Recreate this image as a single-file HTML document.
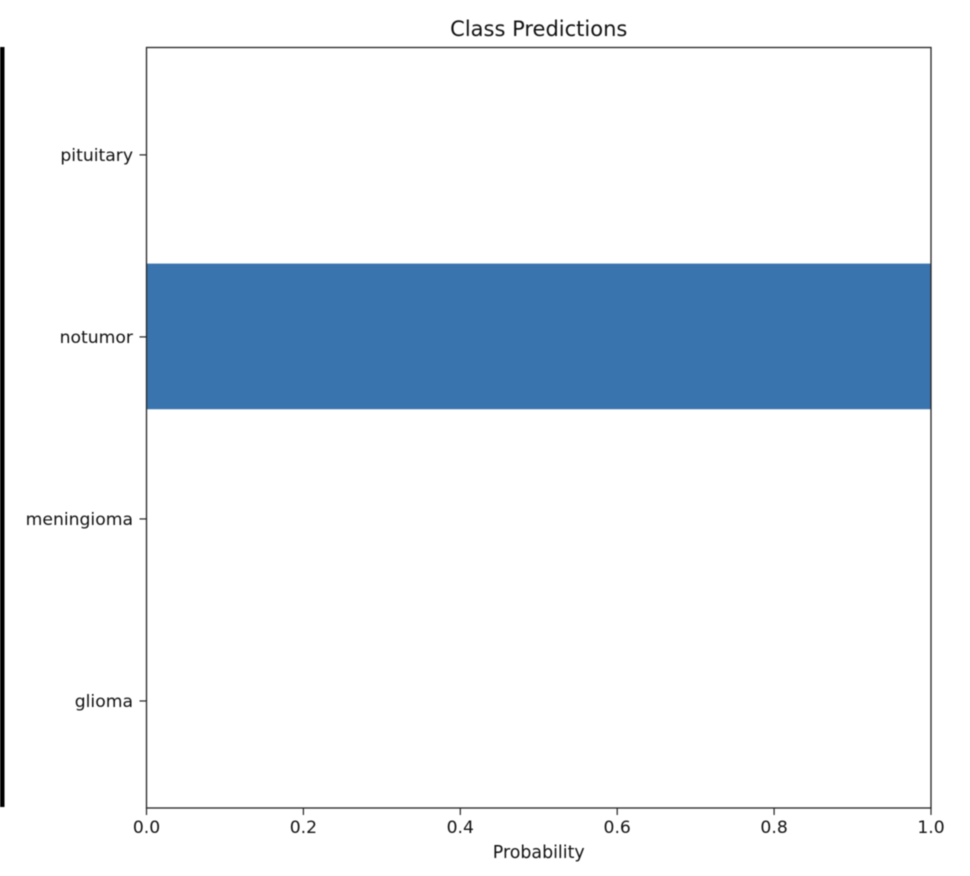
<!DOCTYPE html>
<html lang="en">
<head>
<meta charset="utf-8">
<title>Class Predictions</title>
<style>
html,body{margin:0;padding:0;background:#fff;width:970px;height:876px;overflow:hidden}
svg{display:block;filter:blur(0.45px)}
text{font-family:"DejaVu Sans","Liberation Sans",sans-serif;fill:#111}
</style>
</head>
<body>
<svg id="chart" width="970" height="876" viewBox="0 0 970 876" xmlns="http://www.w3.org/2000/svg"></svg>
<script>
const categories = ["glioma", "meningioma", "notumor", "pituitary"];
const probabilities = [0, 0, 1, 0];
const xTickValues = [0, 0.2, 0.4, 0.6, 0.8, 1];
const xTickLabels = ["0.0", "0.2", "0.4", "0.6", "0.8", "1.0"];
const xDomain = [0, 1];
const yDomain = [-0.588, 3.59];
const barThickness = 0.8;

const plot = { left: 146.5, right: 931, top: 47.5, bottom: 808 };
const svg = document.getElementById('chart');
const NS = 'http://www.w3.org/2000/svg';

function xScale(v) {
  return plot.left + (v - xDomain[0]) / (xDomain[1] - xDomain[0]) * (plot.right - plot.left);
}
function yScale(v) {
  return plot.bottom - (v - yDomain[0]) / (yDomain[1] - yDomain[0]) * (plot.bottom - plot.top);
}
function make(tag, attrs, text) {
  const el = document.createElementNS(NS, tag);
  for (const k in attrs) el.setAttribute(k, attrs[k]);
  if (text !== undefined) el.textContent = text;
  svg.appendChild(el);
  return el;
}

const sideBar = make('rect', { x: -2, y: 47, width: 6.5, height: 760, fill: '#000' });



const plotBg = make('rect', { x: plot.left, y: plot.top, width: plot.right - plot.left, height: plot.bottom - plot.top, fill: '#fff' });



categories.forEach(function (cat, i) {
  const yTop = yScale(i + barThickness / 2) - 0.5;
  const yBottom = yScale(i - barThickness / 2) - 0.5;
  const bar = make('rect', {
    x: xScale(0),
    y: yTop,
    width: xScale(probabilities[i]) - xScale(0),
    height: yBottom - yTop,
    fill: '#3a74ae'
  });
  
  

  const tick = make('line', { x1: plot.left - 7, x2: plot.left, y1: yScale(i), y2: yScale(i), stroke: '#222', 'stroke-width': 1.2 });
  
  

  const label = make('text', { x: plot.left - 13.5, y: yScale(i) + 6, 'text-anchor': 'end', 'font-size': 17.2 }, cat);
  
  
});

xTickValues.forEach(function (v, i) {
  const tick = make('line', { x1: xScale(v), x2: xScale(v), y1: plot.bottom, y2: plot.bottom + 7, stroke: '#222', 'stroke-width': 1.2 });
  
  

  const label = make('text', { x: xScale(v), y: plot.bottom + 25, 'text-anchor': 'middle', 'font-size': 17.2 }, xTickLabels[i]);
  
  
});

const frame = make('rect', { x: plot.left, y: plot.top, width: plot.right - plot.left, height: plot.bottom - plot.top, fill: 'none', stroke: '#222', 'stroke-width': 1.3 });



const title = make('text', { x: (plot.left + plot.right) / 2, y: 36, 'text-anchor': 'middle', 'font-size': 21 }, 'Class Predictions');



const xTitle = make('text', { x: (plot.left + plot.right) / 2, y: 858, 'text-anchor': 'middle', 'font-size': 17.4 }, 'Probability');


</script>
</body>
</html>
